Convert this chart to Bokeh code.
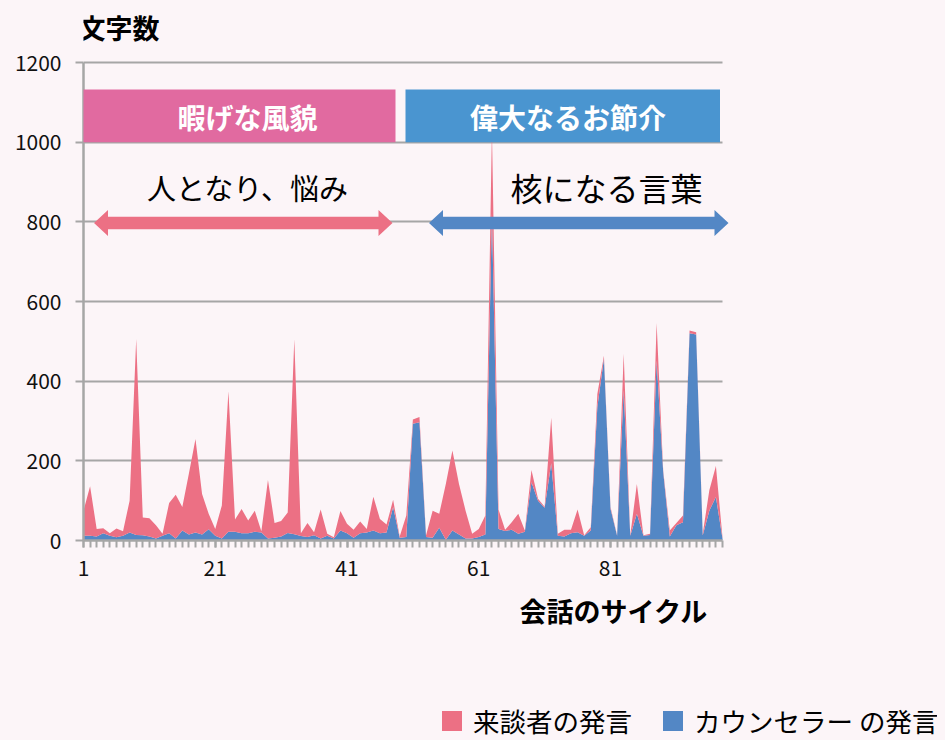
from bokeh.plotting import figure
from bokeh.models import (ColumnDataSource, Range1d, FixedTicker, BoxAnnotation, Label,
                          PolyAnnotation, Legend, LegendItem, Title)
from bokeh.embed import file_html
from bokeh.resources import INLINE

# ---------------- data ----------------
cycles = list(range(1, 99))
counselor = [12, 12, 10, 18, 12, 8, 12, 20, 14, 13,
             10, 5, 12, 18, 5, 25, 15, 20, 15, 28,
             12, 5, 22, 22, 18, 18, 22, 20, 5, 7,
             10, 19, 16, 11, 9, 13, 5, 12, 5, 25,
             18, 7, 18, 20, 25, 18, 20, 84, 7, 9,
             293, 297, 9, 7, 32, 2, 25, 15, 5, 5,
             9, 15, 820, 29, 24, 27, 17, 22, 146, 100,
             82, 194, 12, 10, 18, 21, 12, 25, 335, 456,
             80, 12, 377, 12, 67, 12, 14, 452, 172, 10,
             38, 46, 520, 517, 13, 75, 109, 5]
client = [63, 124, 19, 13, 6, 22, 11, 80, 492, 45,
          46, 33, 5, 76, 110, 59, 153, 235, 102, 39,
          17, 83, 353, 31, 61, 32, 53, 3, 147, 37,
          39, 51, 489, 7, 35, 8, 73, 5, 3, 49,
          24, 20, 30, 9, 85, 36, 20, 18, 3, 54,
          11, 13, 4, 68, 35, 140, 201, 127, 70, 12,
          20, 48, 210, 49, 3, 19, 50, 3, 31, 5,
          3, 114, 5, 17, 9, 57, 1, 8, 33, 8,
          4, 1, 92, 1, 75, 1, 3, 94, 4, 15,
          6, 17, 7, 6, 4, 51, 78, 3]
x_tick_labels = [1, 21, 41, 61, 81]
y_ticks = [0, 200, 400, 600, 800, 1000, 1200]
series_names = ["来談者の発言", "カウンセラー の発言"]

PINK = "#EC7084"
BLUE = "#5387C5"
BG = "#FCF5F8"
GRAY = "#A6A6A6"
JP = "Noto Sans CJK JP"

source = ColumnDataSource(dict(cycle=cycles, counselor=counselor, client=client))

W, H = 929, 690
K = 639 / 97                       # px per cycle
Y_TOP = (540 - 8) * 1200 / 478     # frame reaches the canvas top; axis itself stops at 1200
X_END = 1 + 646 / K                # a little room right of cycle 98 for the arrow tip
p = figure(width=W, height=H, output_backend="svg", toolbar_location=None,
           x_range=Range1d(1, X_END), y_range=Range1d(0, Y_TOP),
           min_border_left=75, min_border_right=208, min_border_top=0,
           min_border_bottom=H - 532)
p.background_fill_color = BG
p.border_fill_color = BG
p.outline_line_color = None

rs = p.varea_stack(stackers=["counselor", "client"], x="cycle", color=[BLUE, PINK],
                   source=source)

# axes
xa = p.xaxis[0]
xa.bounds = (1, 98)
xa.ticker = FixedTicker(ticks=x_tick_labels, minor_ticks=cycles)
xa.axis_line_color = GRAY
xa.axis_line_width = 2.5
xa.major_tick_line_color = GRAY
xa.minor_tick_line_color = GRAY
xa.major_tick_line_width = 2
xa.minor_tick_line_width = 2
xa.major_tick_in = 0
xa.minor_tick_in = 0
xa.major_tick_out = 7
xa.minor_tick_out = 7
xa.major_label_text_font = JP
xa.major_label_text_font_size = "21px"
xa.major_label_text_color = "#111111"
xa.major_label_standoff = 12

ya = p.yaxis[0]
ya.bounds = (0, 1200)
ya.ticker = FixedTicker(ticks=y_ticks)
ya.axis_line_color = GRAY
ya.axis_line_width = 2.5
ya.major_tick_line_color = GRAY
ya.major_tick_line_width = 2
ya.major_tick_in = 0
ya.major_tick_out = 8
ya.minor_tick_line_color = None
ya.major_label_text_font = JP
ya.major_label_text_font_size = "21px"
ya.major_label_text_color = "#111111"
ya.major_label_standoff = 14

p.xgrid.visible = False
yg = p.ygrid[0]
yg.ticker = FixedTicker(ticks=y_ticks)
yg.grid_line_color = GRAY
yg.grid_line_width = 2
try:
    yg.cross_bounds = (1, 98)
except AttributeError:
    pass

# x-axis title (bottom-right)
xt = Title(text="会話のサイクル", align="right", offset=21, standoff=21,
           text_font=JP, text_font_size="27px", text_font_style="bold",
           text_color="black")
p.add_layout(xt, "below")


# page-pixel helpers for annotation layout
def dx(px):
    return 1 + (px - 83) / K


def dy(py):
    return (540 - py) * 1200 / 478


# header boxes
p.add_layout(BoxAnnotation(left=dx(81), right=dx(395), top=dy(89), bottom=dy(141.7),
                           fill_color="#E16AA0", fill_alpha=1, line_color=None))
p.add_layout(BoxAnnotation(left=dx(405), right=dx(719.5), top=dy(89), bottom=dy(141.7),
                           fill_color="#4A95D0", fill_alpha=1, line_color=None))


def arrow(x0, x1, yc, color, body=6.2, head=13, hl=14):
    pts = [(x0, yc), (x0 + hl, yc - head), (x0 + hl, yc - body), (x1 - hl, yc - body),
           (x1 - hl, yc - head), (x1, yc), (x1 - hl, yc + head), (x1 - hl, yc + body),
           (x0 + hl, yc + body), (x0 + hl, yc + head)]
    p.add_layout(PolyAnnotation(xs=[dx(a) for a, b in pts], ys=[dy(b) for a, b in pts],
                                fill_color=color, fill_alpha=1, line_color=None))


arrow(93.5, 392, 222.5, PINK)
arrow(428.5, 728, 222.5, BLUE)


def label(txt, x, y, size, color="black", bold=False, align="center"):
    p.add_layout(Label(x=dx(x), y=dy(y), text=txt, text_font=JP, text_font_size=size,
                       text_color=color, text_font_style="bold" if bold else "normal",
                       text_align=align, text_baseline="middle"))


label("暇げな風貌", 247, 116, "28px", "white", True)
label("偉大なるお節介", 567.5, 116, "28px", "white", True)
label("人となり、悩み", 247.5, 186, "29px")
label("核になる言葉", 606, 186, "32px")
label("文字数", 78, 27, "27px", bold=True, align="left")

# legend strip below the chart (separate root so it spans the full width)
p2 = figure(width=W, height=740 - 8 - H, output_backend="svg", toolbar_location=None,
            x_range=Range1d(-200, -199), y_range=Range1d(0, 1), x_axis_type=None,
            y_axis_type=None, min_border=0)
p2.background_fill_color = BG
p2.border_fill_color = BG
p2.outline_line_color = None
lg = p2.varea_stack(stackers=["counselor", "client"], x="cycle", color=[BLUE, PINK],
                    source=source)
legend = Legend(items=[LegendItem(label=series_names[0], renderers=[lg[1]]),
                       LegendItem(label=series_names[1], renderers=[lg[0]])],
                orientation="horizontal", location=(431, 0),
                glyph_width=25, glyph_height=25, label_standoff=9, spacing=28,
                padding=0, margin=0, border_line_color=None, background_fill_alpha=0,
                label_text_font=JP, label_text_font_size="26.5px",
                label_text_line_height=1.0, label_text_color="black")
p2.add_layout(legend)

html = file_html([p, p2], INLINE)
html = html.replace("<body>", '<body style="margin:8px;background:%s;overflow:hidden">' % BG)
open("out.html", "w").write(html)
